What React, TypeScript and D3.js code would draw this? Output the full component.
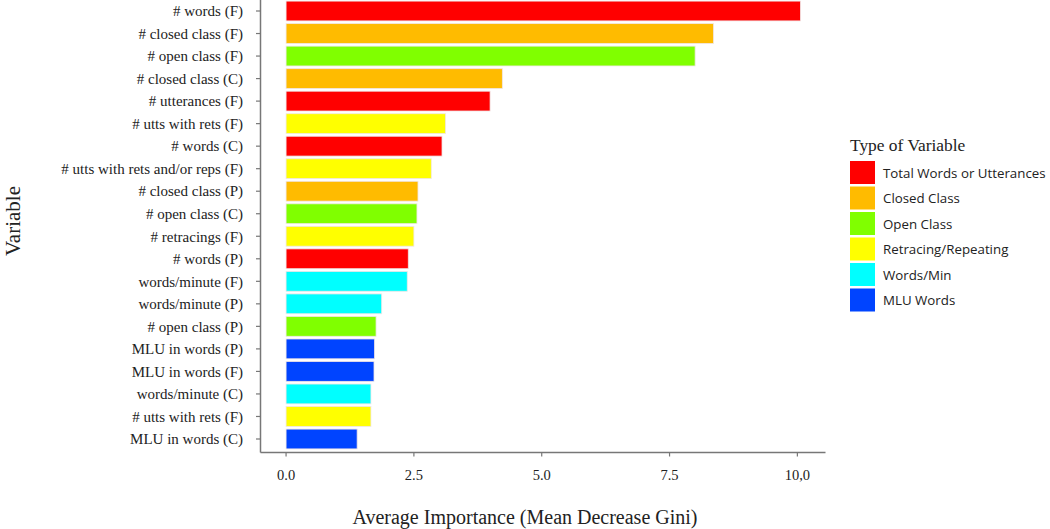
import React from "react";
import * as d3 from "d3";

const variables = [
  "# words (F)",
  "# closed class (F)",
  "# open class (F)",
  "# closed class (C)",
  "# utterances (F)",
  "# utts with rets (F)",
  "# words (C)",
  "# utts with rets and/or reps (F)",
  "# closed class (P)",
  "# open class (C)",
  "# retracings (F)",
  "# words (P)",
  "words/minute (F)",
  "words/minute (P)",
  "# open class (P)",
  "MLU in words (P)",
  "MLU in words (F)",
  "words/minute (C)",
  "# utts with rets (F) ",
  "MLU in words (C)",
];
const importance = [
  10.06, 8.36, 8.0, 4.23, 3.99, 3.12, 3.05, 2.84, 2.58, 2.56,
  2.5, 2.39, 2.37, 1.87, 1.76, 1.73, 1.72, 1.66, 1.66, 1.39,
];
const types = [
  "Total Words or Utterances",
  "Closed Class",
  "Open Class",
  "Closed Class",
  "Total Words or Utterances",
  "Retracing/Repeating",
  "Total Words or Utterances",
  "Retracing/Repeating",
  "Closed Class",
  "Open Class",
  "Retracing/Repeating",
  "Total Words or Utterances",
  "Words/Min",
  "Words/Min",
  "Open Class",
  "MLU Words",
  "MLU Words",
  "Words/Min",
  "Retracing/Repeating",
  "MLU Words",
];
const legendTypes = [
  "Total Words or Utterances",
  "Closed Class",
  "Open Class",
  "Retracing/Repeating",
  "Words/Min",
  "MLU Words",
];
const legendColors = ["#ff0000", "#ffbb00", "#80ff00", "#ffff00", "#00ffff", "#0044ff"];
const xTicks = [0, 2.5, 5, 7.5, 10];
const xTickLabels = ["0.0", "2.5", "5.0", "7.5", "10,0"];

export default function App() {
  const W = 1050, H = 529;
  const x = d3.scaleLinear().domain([-0.5, 10.55]).range([260.5, 825.5]);
  const y = d3.scalePoint().domain(variables).range([11, 439]);
  const step = y.step();
  const bw = step * 0.88;
  const color = d3.scaleOrdinal<string, string>().domain(legendTypes).range(legendColors);
  const serif = "'Liberation Serif', 'Times New Roman', serif";
  const sans = "'Open Sans', 'Liberation Sans', sans-serif";
  const axisColor = "#777";
  const textColor = "#222";

  return (
    <svg width={W} height={H} style={{ position: "absolute", left: 0, top: 0, background: "#fff" }}>
      {/* bars */}
      {variables.map((v, i) => (
        <rect
          key={v}
          x={x(0)}
          y={y(v)! - bw / 2}
          width={x(importance[i]) - x(0)}
          height={bw}
          fill={color(types[i])}
          stroke="#f0e6e6"
          strokeWidth={0.8}
        />
      ))}
      {/* y axis */}
      <line x1={260.5} x2={260.5} y1={0} y2={452.5} stroke={axisColor} strokeWidth={1.5} />
      {variables.map((v) => {
        const cy = y(v)!;
        return (
          <g key={"t" + v}>
            <line x1={256} x2={260.5} y1={cy} y2={cy} stroke={axisColor} strokeWidth={1.2} />
            <text
              x={243}
              y={cy}
              dy="0.35em"
              textAnchor="end"
              fontFamily={serif}
              fontSize={15}
              fill={textColor}
            >
              {v.trim()}
            </text>
          </g>
        );
      })}
      {/* x axis */}
      <line x1={260.5} x2={825.5} y1={452.5} y2={452.5} stroke={axisColor} strokeWidth={1.5} />
      {xTicks.map((t, i) => (
        <g key={"x" + t}>
          <line x1={x(t)} x2={x(t)} y1={452.5} y2={456.5} stroke={axisColor} strokeWidth={1.2} />
          <text
            x={x(t)}
            y={474.5}
            dy="0.35em"
            textAnchor="middle"
            fontFamily={serif}
            fontSize={14.5}
            fill={textColor}
          >
            {xTickLabels[i]}
          </text>
        </g>
      ))}
      <text
        x={525}
        y={517}
        dy="0.35em"
        textAnchor="middle"
        fontFamily={serif}
        fontSize={20}
        fill={textColor}
      >
        Average Importance (Mean Decrease Gini)
      </text>
      <text
        transform="translate(13,221) rotate(-90)"
        dy="0.35em"
        textAnchor="middle"
        fontFamily={serif}
        fontSize={21}
        fill={textColor}
      >
        Variable
      </text>
      {/* legend */}
      <text x={850} y={145} dy="0.35em" fontFamily={serif} fontSize={17.4} fill={textColor}>
        Type of Variable
      </text>
      {legendTypes.map((t, i) => {
        const top = 161 + i * 25.5;
        return (
          <g key={"l" + t}>
            <rect x={850} y={top} width={25} height={23} fill={color(t)} />
            <text
              x={883}
              y={top + 12}
              dy="0.35em"
              fontFamily={sans}
              fontSize={13.3}
              fill={textColor}
            >
              {t}
            </text>
          </g>
        );
      })}
    </svg>
  );
}
